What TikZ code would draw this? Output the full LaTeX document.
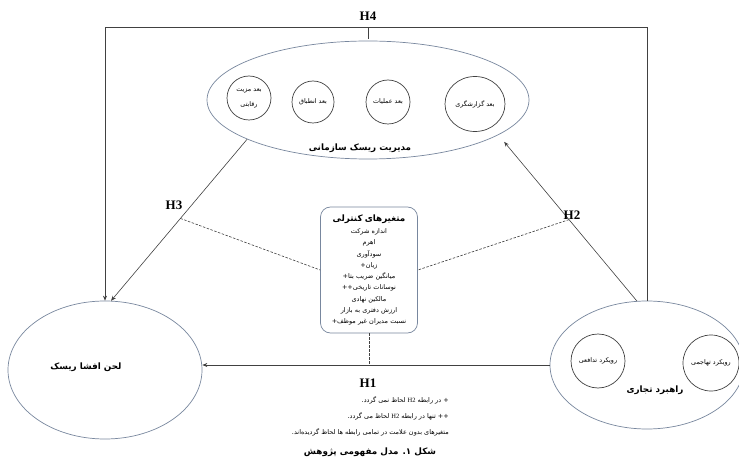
\documentclass[tikz,border=0pt]{standalone}
\usepackage{fontspec}
\setmainfont{Liberation Serif}
\newfontfamily\arabicfont[Script=Arabic]{DejaVu Sans}
\TeXXeTstate=1
\usetikzlibrary{shapes.geometric,arrows.meta}
\newcommand{\ar}[1]{{\arabicfont\beginR #1\endR}}
\newcommand{\lat}[1]{{\rmfamily\beginL #1\endL}}
\definecolor{ellc}{RGB}{120,135,158}
\definecolor{linec}{RGB}{65,65,65}
\begin{document}
\begin{tikzpicture}[x=1pt,y=-1pt,
  big/.style={ellipse, draw=ellc, line width=0.7pt, inner sep=0pt},
  dimc/.style={circle, draw=linec, line width=0.7pt, inner sep=0pt, align=center, font=\fontsize{6.4}{12}\selectfont},
  dime/.style={ellipse, draw=linec, line width=0.7pt, inner sep=0pt, align=center, font=\fontsize{6.4}{12}\selectfont},
  conn/.style={draw=linec, line width=0.6pt},
  arr/.style={conn, -{Stealth[length=5pt,width=4pt]}},
  dsh/.style={draw=linec, line width=0.6pt, dash pattern=on 2.5pt off 1.5pt},
  hlab/.style={font=\fontsize{13}{13}\selectfont\bfseries, inner sep=1pt},
  ttl/.style={font=\fontsize{8.8}{10}\selectfont\bfseries, inner sep=1pt},
  note/.style={font=\fontsize{6.5}{8}\selectfont, inner sep=0pt, anchor=east}]
\useasboundingbox (0,0) rectangle (739,465);
\fill[white] (0,0) rectangle (739,465);

% organisational risk management
\node[big, minimum width=322, minimum height=118] (org) at (368,100) {};
\node[dimc, minimum size=44] (c1) at (249,98) {\ar{بعد مزیت}\\[3pt]\ar{رقابتی}};
\node[dimc, minimum size=42] (c2) at (313,102) {\ar{بعد انطباق}};
\node[dimc, minimum size=44] (c3) at (388,102) {\ar{بعد عملیات}};
\node[dime, minimum width=60, minimum height=55] (c4) at (475,104) {\ar{بعد گزارشگری}};
\node[ttl] (orgt) at (360,148) {\ar{مدیریت ریسک سازمانی}};

% risk disclosure tone
\node[big, minimum width=194, minimum height=138] (disc) at (105,370) {};
\node[ttl] (disct) at (86,367) {\ar{لحن افشا ریسک}};

% business strategy
\node[big, minimum width=194, minimum height=128] (strat) at (647,365) {};
\node[dimc, minimum size=54] (s1) at (598,361) {\ar{رویکرد تدافعی}};
\node[dimc, minimum size=56] (s2) at (711,363) {\ar{رویکرد تهاجمی}};
\node[ttl] (stratt) at (655,390) {\ar{راهبرد تجاری}};

% control variables
\node[draw=ellc, rounded corners=10pt, line width=0.7pt, minimum width=97, minimum height=126,
      text width=92, align=center, inner sep=2pt, font=\fontsize{6.5}{11.3}\selectfont] (ctrl) at (369,270)
  {{\fontsize{8.8}{10}\selectfont\bfseries\ar{متغیرهای کنترلی}}\\[1pt]
   \ar{اندازه شرکت}\\
   \ar{اهرم}\\
   \ar{سودآوری}\\
   \ar{زیان+}\\
   \ar{میانگین ضریب بتا+}\\
   \ar{نوسانات تاریخی++}\\
   \ar{مالکین نهادی}\\
   \ar{ارزش دفتری به بازار}\\
   \ar{نسبت مدیران غیر موظف+}};

% connectors
\coordinate (tl) at (105,27);
\draw[arr] (strat.north) |- (tl) -- (disc.north);
\draw[conn] ([yshift=2pt]org.north) -- (org.north |- tl);
\node[hlab] (h4) at (368,16) {H4};

\draw[arr] (org.198) -- coordinate[pos=0.49] (m3) (disc.85);
\node[hlab] (h3) at (174,205) {H3};

\draw[arr, shorten >=9pt] (strat.99) -- coordinate[pos=0.49] (m2) (org.345);
\node[hlab] (h2) at (572,215) {H2};

\draw[arr] (strat.west) -- (strat.west -| disc.east);
\node[hlab] (h1) at (368,383) {H1};

\draw[dsh] (m3) -- (ctrl.west);
\draw[dsh] (m2) -- (ctrl.east);
\draw[dsh] (ctrl.south) -- (ctrl.south |- strat.west);

% notes
\node[note] (n1) at (449,400) {\ar{+ در رابطه \lat{H2} لحاظ نمی گردد.}};
\node[note] (n2) at (449,416) {\ar{++ تنها در رابطه \lat{H2} لحاظ می گردد.}};
\node[note] (n3) at (449,432) {\ar{متغیرهای بدون علامت در تمامی رابطه ها لحاظ گردیده‌اند.}};
\node[ttl] (cap) at (370,452) {\ar{شکل ۱. مدل مفهومی پژوهش}};
\end{tikzpicture}
\end{document}
